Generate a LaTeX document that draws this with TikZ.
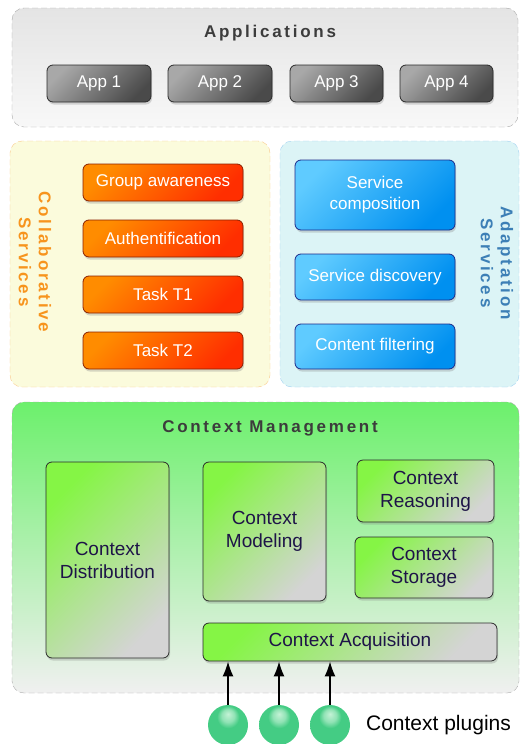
\documentclass[tikz,border=0pt]{standalone}
\usepackage{fontspec}
\setmainfont{Liberation Sans}
\newfontfamily\titlefont[LetterSpace=16]{Liberation Sans}
\usetikzlibrary{positioning,shadows,arrows.meta}
\definecolor{panelline}{HTML}{A8A8A8}
\definecolor{apppaneltop}{HTML}{E4E4E4}
\definecolor{apppanelbot}{HTML}{F8F8F8}
\definecolor{applight}{HTML}{A8A8A8}
\definecolor{appdark}{HTML}{4A4A4A}
\definecolor{appline}{HTML}{2A2A2A}
\definecolor{collabfill}{HTML}{FBFBDC}
\definecolor{collabline}{HTML}{F9C98A}
\definecolor{collabtext}{HTML}{F7941D}
\definecolor{tasklight}{HTML}{FF8C00}
\definecolor{taskdark}{HTML}{FF2E00}
\definecolor{taskline}{HTML}{8A2000}
\definecolor{adaptfill}{HTML}{DCF4F6}
\definecolor{adaptline}{HTML}{9FD0F0}
\definecolor{adapttext}{HTML}{3C7FB6}
\definecolor{svclight}{HTML}{5FCBFF}
\definecolor{svcdark}{HTML}{0090F0}
\definecolor{svcline}{HTML}{1C2A8A}
\definecolor{ctxpaneltop}{HTML}{6CF06C}
\definecolor{ctxpanelbot}{HTML}{F0F0F0}
\definecolor{ctxlight}{HTML}{85F545}
\definecolor{ctxdark}{HTML}{D4D4D4}
\definecolor{ctxline}{HTML}{2A2A2A}
\definecolor{ctxtext}{HTML}{1E1448}
\definecolor{titlegray}{HTML}{3C3C3C}
\definecolor{pluginlight}{HTML}{C4F2D6}
\definecolor{plugingreen}{HTML}{44CC84}
\definecolor{plugindark}{HTML}{2AA868}
\pgfdeclareradialshading{pluginball}{\pgfpoint{0bp}{14bp}}{color(0bp)=(pluginlight); color(8bp)=(pluginlight!60!plugingreen); color(14bp)=(plugingreen); color(34bp)=(plugingreen); color(40bp)=(plugindark); color(50bp)=(plugindark)}
\tikzset{
     layer panel/.style={draw, dash pattern=on 6pt off 3pt, rounded corners=12pt, inner sep=0pt},
     layer title/.style={text=titlegray, font=\titlefont\bfseries\fontsize{17}{20}\selectfont},
     side title/.style={rotate=-90, align=center, font=\titlefont\bfseries\fontsize{17}{20}\selectfont},
     box/.style={draw, rounded corners=6pt, line width=0.8pt, inner sep=2pt, align=center,
        drop shadow={shadow xshift=1pt, shadow yshift=-2.5pt, opacity=.3}},
      app box/.style = {box, draw=appline, left color=applight, right color=appdark, shading angle=45,
        text=white, minimum height=37pt, font=\fontsize{17}{20}\selectfont},
      task box/.style = {box, draw=taskline, left color=tasklight, right color=taskdark, shading angle=45,
        text=white, minimum width=160pt, minimum height=37pt, font=\fontsize{17}{20}\selectfont},
      service box/.style = {box, draw=svcline, left color=svclight, right color=svcdark, shading angle=45,
        text=white, minimum width=160pt, font=\fontsize{17}{21}\selectfont},
      context box/.style = {box, draw=ctxline, left color=ctxlight, right color=ctxdark, shading angle=45,
        text=ctxtext, font=\fontsize{19}{23}\selectfont},
      plugin/.style = {circle, minimum size=40pt, inner sep=0pt, shading=pluginball},
      plugin edge/.style = {black, -{Latex[length=15pt, width=11pt]}, line width=1.6pt},
    }

\begin{document}
\begin{tikzpicture}[x=1pt, y=-1pt, node distance=56pt, on grid]
        \useasboundingbox (0,0) rectangle (520,744);

        % applications
        \node [layer panel, draw=panelline, top color=apppaneltop, bottom color=apppanelbot,
               minimum width=506pt, minimum height=119pt] (apps) at (265,67.5) {};
        \node [layer title] (appstitle) at (270,33) {Applications};
        \node [app box, minimum width=104pt] (app1) at (99,83.5)  {App 1};
        \node [app box, minimum width=104pt] (app2) at (220,83.5) {App 2};
        \node [app box, minimum width=93pt]  (app3) at (336.5,83.5) {App 3};
        \node [app box, minimum width=93pt]  (app4) at (446.5,83.5) {App 4};

        % collaborative services
        \node [layer panel, draw=collabline, fill=collabfill,
               minimum width=260pt, minimum height=246pt] (collab) at (140,264) {};
        \node [side title, text=collabtext] (collabtitle) at (35,262) {Collaborative\\Services};
        \node [task box] (aware)              at (163,182.5) {Group awareness};
        \node [task box, below=of aware] (auth)  {Authentification};
        \node [task box, below=of auth]  (task1) {Task T1};
        \node [task box, below=of task1] (task2) {Task T2};

        % adaptation services
        \node [layer panel, draw=adaptline, fill=adaptfill,
               minimum width=239pt, minimum height=246pt] (adapt) at (399.5,264) {};
        \node [side title, text=adapttext] (adapttitle) at (497,263) {Adaptation\\Services};
        \node [service box, minimum height=70pt] (compose)  at (375,195)   {Service\\composition};
        \node [service box, minimum height=46pt] (discover) at (375,277)   {Service discovery};
        \node [service box, minimum height=45pt] (filter)   at (375,346.5) {Content filtering};

        % context management
        \node [layer panel, draw=panelline, top color=ctxpaneltop, bottom color=ctxpanelbot,
               minimum width=507pt, minimum height=291pt] (ctx) at (265.5,547.5) {};
        \node [layer title] (ctxtitle) at (270,428) {Context Management};
        \node [context box, minimum width=123pt, minimum height=196pt] (dist)   at (107.5,560) {Context\\Distribution};
        \node [context box, minimum width=123pt, minimum height=139pt] (model)  at (264.5,531.5) {Context\\Modeling};
        \node [context box, minimum width=137pt, minimum height=62pt]  (reason) at (425.5,491) {Context\\Reasoning};
        \node [context box, minimum width=138pt, minimum height=61pt]  (store)  at (424,567.5) {Context\\Storage};
        \node [context box, minimum width=294pt, minimum height=38pt]  (acq)    at (350,642) {Context Acquisition};

        % plugins
        \node [plugin] (p1) at (228,725) {};
        \node [plugin, right=51pt of p1] (p2) {};
        \node [plugin, right=51pt of p2] (p3) {};
        \node [font=\fontsize{21}{25}\selectfont, right=108.5pt of p3] (plugins) {Context plugins};

        \draw[plugin edge] (p1) -- (p1 |- acq.south);
        \draw[plugin edge] (p2) -- (p2 |- acq.south);
        \draw[plugin edge] (p3) -- (p3 |- acq.south);
    \end{tikzpicture}
\end{document}
